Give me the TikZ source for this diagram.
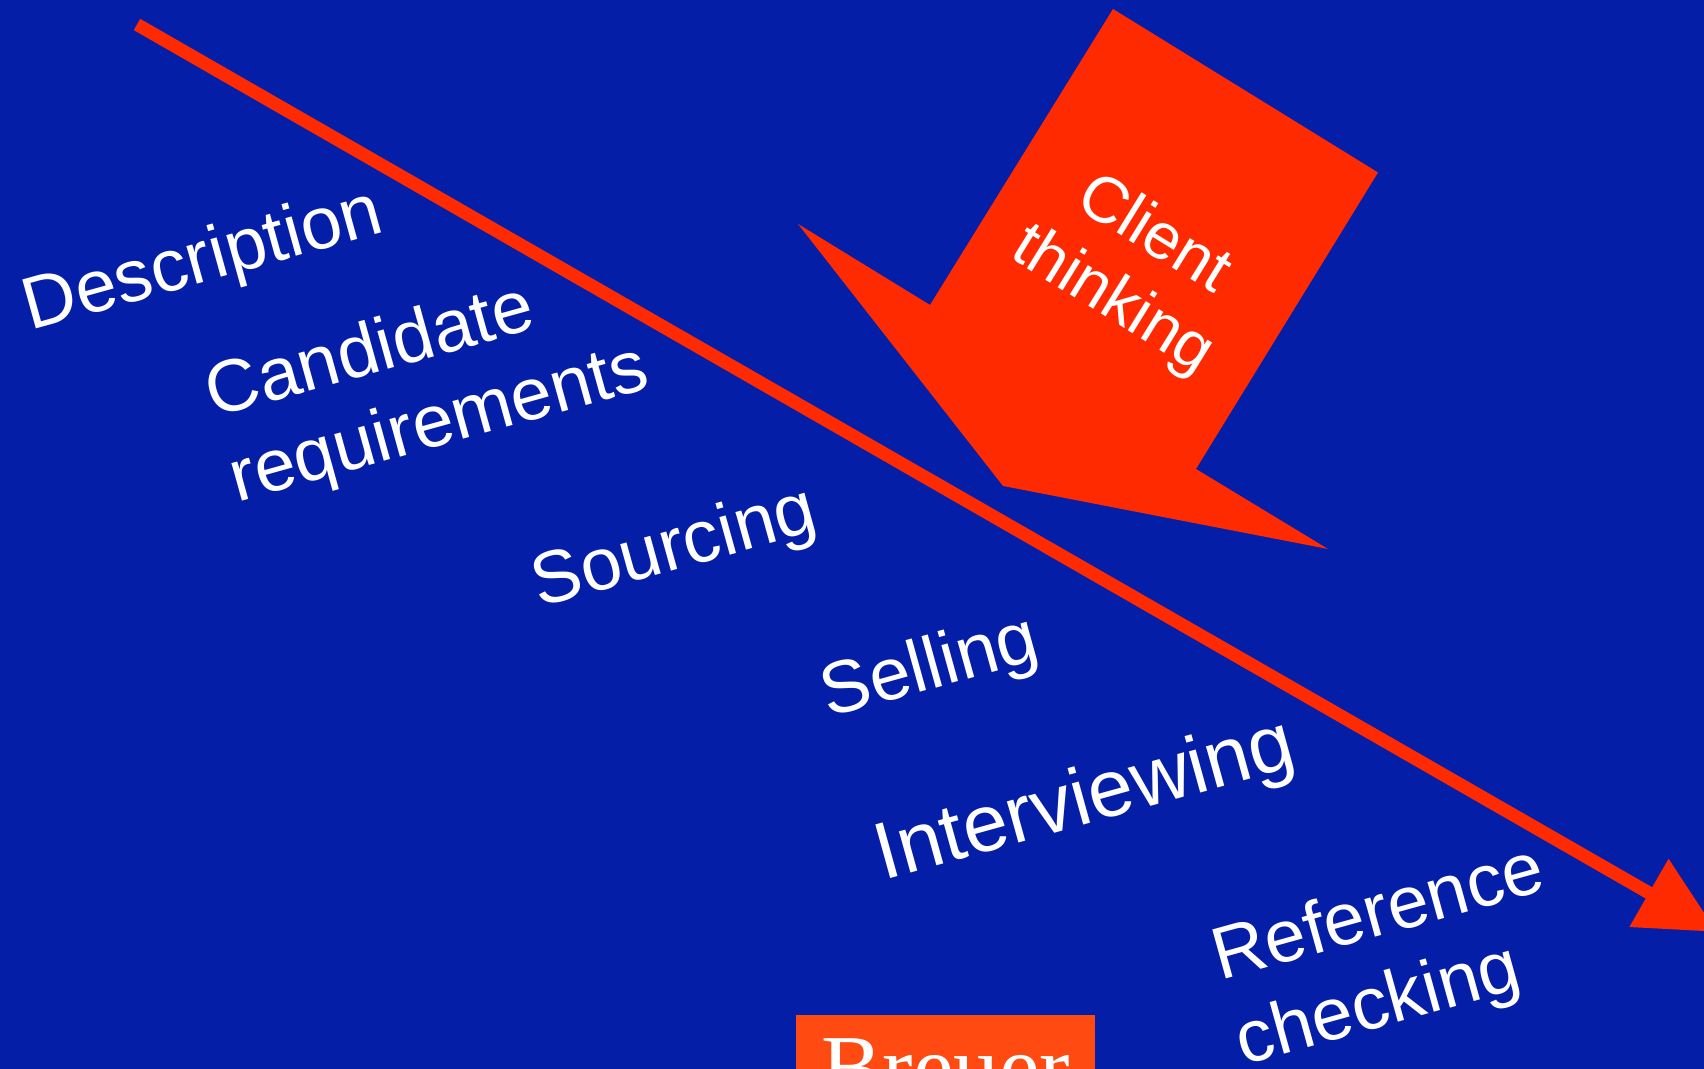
\documentclass[tikz,border=0pt]{standalone}
\usepackage{fontspec}
\setmainfont{Liberation Sans}
\newfontfamily\brandfont{Liberation Serif}
\usepackage{xcolor}
\usetikzlibrary{arrows.meta}
\definecolor{slideblue}{RGB}{4,30,168}
\definecolor{slidered}{RGB}{255,42,0}
\definecolor{brandorange}{RGB}{255,74,18}
\tikzset{%
	phase/.style    = {text=white, inner sep=0pt, rotate=15.5, align=left, font=\fontsize{21}{25}\selectfont},
	thinking/.style = {text=white, inner sep=0pt, rotate=-31.7, align=center, font=\fontsize{18.5}{22}\selectfont},
	flow/.style     = {slidered, line width=3.7pt, -{Triangle[length=7.85mm, width=7.5mm]}},
}

\begin{document}
\begin{tikzpicture}
	\useasboundingbox (0,0) rectangle (17.04,10.69);
	\clip (0,0) rectangle (17.04,10.69);
	\fill[slideblue] (0,0) rectangle (17.04,10.69);
	% process line
	\coordinate (start) at (1.37,10.445);
	\coordinate (finish) at (17.17,1.37);
	\draw[flow] (start) -- (finish);
	% block arrow
	\fill[slidered] (11.13,10.60) -- (13.78,8.965) -- (11.96,6.00) -- (13.28,5.20)
		-- (10.03,5.83) -- (7.98,8.45) -- (9.30,7.64) -- cycle;
	\node[thinking] (client) at (11.325,8.005) {Client\\thinking};
	% phases
	\node[phase, anchor=base west] (descr) at (0.30,7.385) {Description};
	\node[phase] (req) at (4.28,6.85) {Candidate\\requirements};
	\node[phase, anchor=base west] (sourcing) at (5.39,4.61) {Sourcing};
	\node[phase, anchor=base west] (selling) at (8.28,3.51) {Selling};
	\node[phase, anchor=base west, font=\fontsize{23}{27}\selectfont] (interview) at (8.83,1.88) {Interviewing};
	\node[phase] (refcheck) at (13.91,1.10) {Reference\\checking};
	% logo
	\fill[brandorange] (7.96,0) rectangle (10.95,0.54);
	\node[anchor=base west, inner sep=0pt, text=white, font=\brandfont\fontsize{26}{30}\selectfont] (brand) at (8.21,-0.295) {Breuer};
\end{tikzpicture}
\end{document}
